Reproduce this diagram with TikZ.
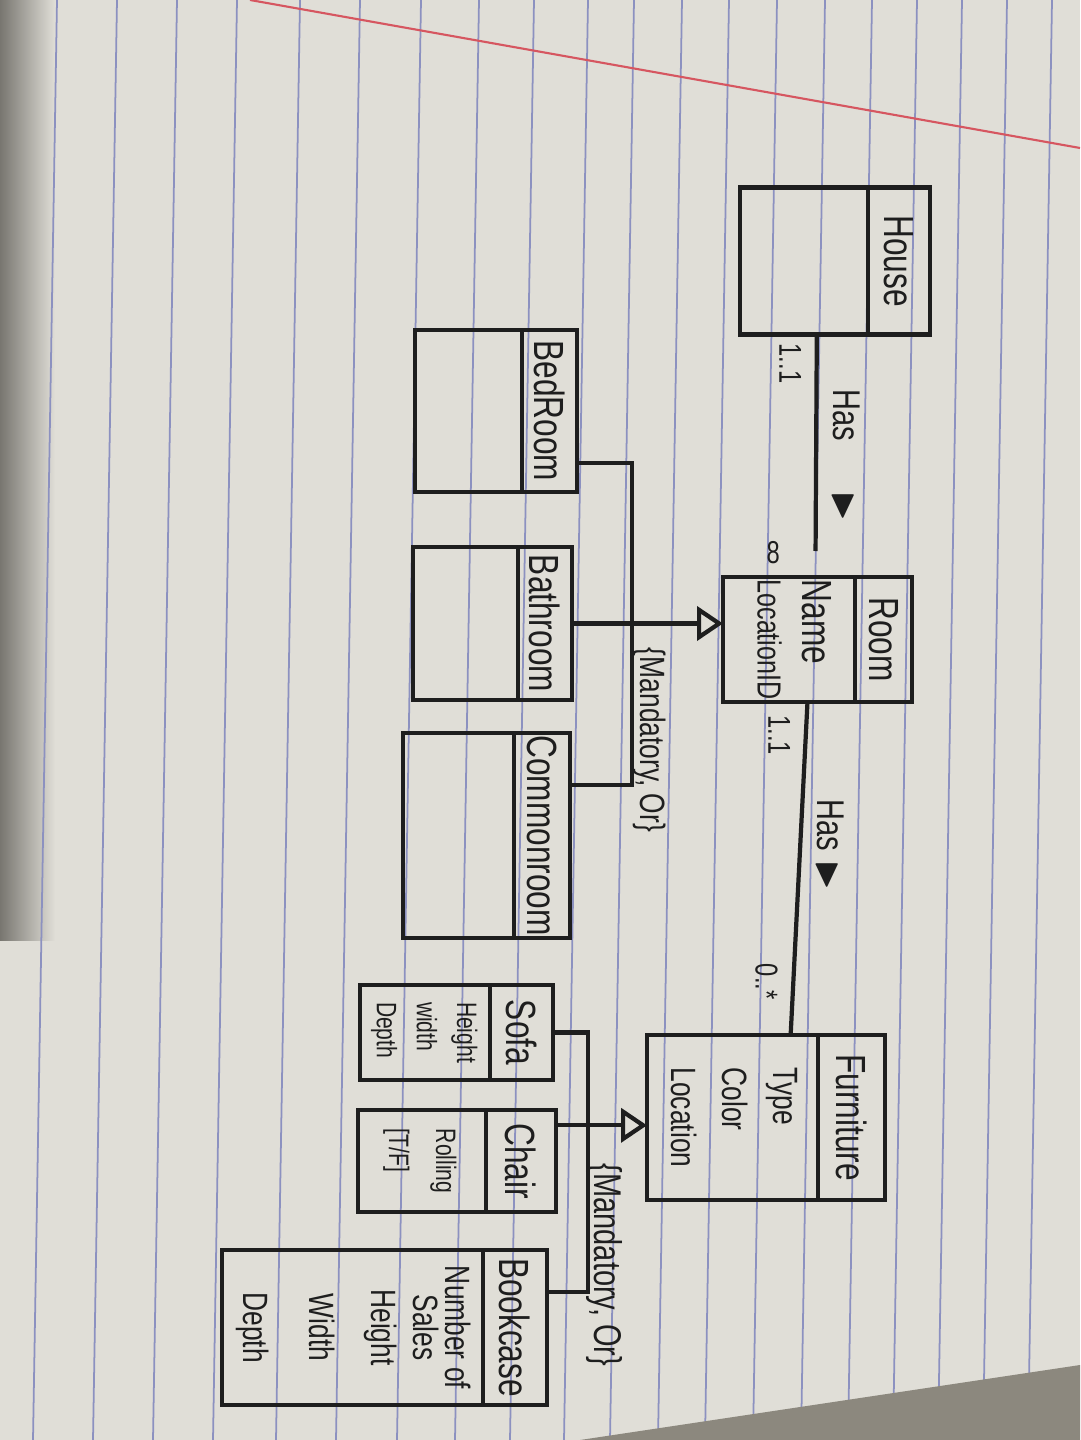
\documentclass[tikz,border=0pt]{standalone}
\usepackage{amssymb}
\usepackage{fontspec}
\usepackage{tikz}
\usetikzlibrary{arrows.meta,positioning,calc}
\newfontfamily\hand[FakeStretch=0.75]{Liberation Sans}
\definecolor{paper}{RGB}{224,222,215}
\definecolor{inkc}{RGB}{30,30,30}
\definecolor{rulec}{RGB}{140,145,192}
\definecolor{marginc}{RGB}{214,86,96}
\definecolor{shadowc}{RGB}{120,118,112}
\definecolor{tablec}{RGB}{140,136,126}
\newcommand{\vname}[1]{\rotatebox{-90}{#1}}
\newcommand{\vlist}[2][l]{\rotatebox{-90}{\begin{tabular}{@{}#1@{}}#2\end{tabular}}}
\tikzset{
    ink/.style={draw=inkc, line width=1.2pt},
    namebox/.style={
        rectangle,
        ink,
        inner sep=0pt,
        outer sep=0pt,
        text=inkc,
        font=\hand\fontsize{12}{14}\selectfont
    },
    attrbox/.style={
        rectangle,
        ink,
        inner sep=0pt,
        outer sep=0pt,
        text=inkc,
        font=\hand\fontsize{10}{14.5}\selectfont
    },
    assoc/.style={ink},
    genline/.style={ink},
    gen/.style={ink, -{Triangle[open, length=2.6mm, width=3.4mm]}},
    mult/.style={text=inkc, inner sep=1pt, font=\hand\fontsize{9}{11}\selectfont},
    roletext/.style={text=inkc, inner sep=1pt, font=\hand\fontsize{11}{13}\selectfont},
    constraint/.style={text=inkc, inner sep=0pt, font=\hand\fontsize{10}{12}\selectfont},
    ruling/.style={draw=rulec, line width=0.5pt}
}

\begin{document}
\begin{tikzpicture}[x=0.1mm, y=-0.1mm]
    \useasboundingbox (0,0) rectangle (1080,1440);
    % notebook page
    \fill[paper] (0,0) rectangle (1080,1440);
    \shade[left color=shadowc, right color=paper] (0,0) rectangle (55,940);
    \foreach \rx in {45,105,165,225,288,348,409,467,522,576,622,670,717,765,813,860,905,950,995,1040}
        \draw[ruling] ({\rx+12},0) -- ({\rx-12},1440);
    \draw[marginc, line width=0.6pt] (250,0) -- (1080,148);
    \fill[tablec] (580,1440) -- (1080,1365) -- (1080,1440) -- cycle;

    % classes
    \node[namebox, minimum width=6.2mm, minimum height=14.7mm] (houseN) at (899,261) {\vname{House}};
    \node[attrbox, left=0pt of houseN, minimum width=12.8mm, minimum height=14.7mm] (houseA) {};

    \node[namebox, minimum width=5.7mm, minimum height=12.5mm] (roomN) at (883.5,639.5) {\vname{Room}};
    \node[attrbox, left=0pt of roomN, minimum width=13.2mm, minimum height=12.5mm,
        font=\hand\fontsize{9.5}{12.8}\selectfont] (roomA)
        {\vlist{{\fontsize{12}{12.8}\selectfont Name}\\LocationID}};

    \node[namebox, minimum width=5.5mm, minimum height=16.2mm] (bedN) at (549.5,411) {\vname{BedRoom}};
    \node[attrbox, left=0pt of bedN, minimum width=10.7mm, minimum height=16.2mm] (bedA) {};

    \node[namebox, minimum width=5.4mm, minimum height=15.3mm] (bathN) at (545,623.5) {\vname{Bathroom}};
    \node[attrbox, left=0pt of bathN, minimum width=10.5mm, minimum height=15.3mm] (bathA) {};

    \node[namebox, minimum width=5.6mm, minimum height=20.5mm] (comN) at (542,835.5) {\vname{Commonroom}};
    \node[attrbox, left=0pt of comN, minimum width=11.1mm, minimum height=20.5mm] (comA) {};

    \node[namebox, minimum width=6.7mm, minimum height=16.5mm] (furnN) at (851.5,1117.5) {\vname{Furniture}};
    \node[attrbox, left=0pt of furnN, minimum width=17.1mm, minimum height=16.5mm] (furnA)
        {\vlist{Type\\Color\\Location}};

    \node[namebox, minimum width=6.3mm, minimum height=9.5mm] (sofaN) at (521.5,1032.5) {\vname{Sofa}};
    \node[attrbox, left=0pt of sofaN, minimum width=13mm, minimum height=9.5mm,
        font=\hand\fontsize{8}{11.4}\selectfont] (sofaA) {\vlist{Height\\width\\Depth}};

    \node[namebox, minimum width=7mm, minimum height=10.2mm] (chairN) at (521,1161) {\vname{Chair}};
    \node[attrbox, left=0pt of chairN, minimum width=12.8mm, minimum height=10.2mm,
        font=\hand\fontsize{8}{13.4}\selectfont] (chairA) {\vlist{Rolling\\{[T/F]}}};

    \node[namebox, minimum width=6.4mm, minimum height=15.5mm] (bookN) at (515,1327.5) {\vname{Bookcase}};
    \node[attrbox, left=0pt of bookN, minimum width=26.1mm, minimum height=15.5mm,
        font=\hand\fontsize{10}{12}\selectfont] (bookA)
        {\vlist[c]{Number of\\[-3pt]Sales\\Height\\[5.7pt]Width\\[6.8pt]Depth}};

    % associations
    \draw[assoc, shorten >=2.6mm] ($(houseA.south west)!0.6!(houseA.south east)$)
        -- ($(roomA.north west)!0.7!(roomA.north east)$)
        node[mult, pos=0.12, left=1mm] {\vname{1..1}}
        node[roletext, pos=0.5, right=1mm] {\vname{Has\hspace{5mm}$\blacktriangleright$}}
        node[mult, pos=0.9, left=3mm] {8};
    \draw[assoc] ($(roomA.south west)!0.64!(roomA.south east)$)
        -- ($(furnA.north west)!0.84!(furnA.north east)$)
        node[mult, pos=0.1, left=1mm] {\vname{1..1}}
        node[roletext, pos=0.43, right=1mm] {\vname{Has\hspace{1mm}$\blacktriangleright$}}
        node[mult, pos=0.84, left=1mm] {\vname{0..*}};

    % room kinds
    \coordinate (roomtrunk) at (632,785);
    \draw[genline] ($(bedN.north east)!0.82!(bedN.south east)$) -| (roomtrunk) -- (roomtrunk -| comN.east);
    \draw[gen] (bathN.east) -- (bathN.east -| roomA.west);
    \node[constraint] (roomOr) at (650,740) {\vname{\{Mandatory, Or\}}};

    % furniture kinds
    \coordinate (furntrunk) at (588,1292);
    \coordinate (chairtap) at ($(chairN.north east)!0.15!(chairN.south east)$);
    \draw[genline] (sofaN.east) -| (furntrunk) -- (furntrunk -| bookN.east);
    \draw[gen] (chairtap) -- (chairtap -| furnA.west);
    \node[constraint, font=\hand\fontsize{11}{13}\selectfont] (furnOr) at (604,1265)
        {\vname{\{Mandatory, Or\}}};
\end{tikzpicture}
\end{document}
